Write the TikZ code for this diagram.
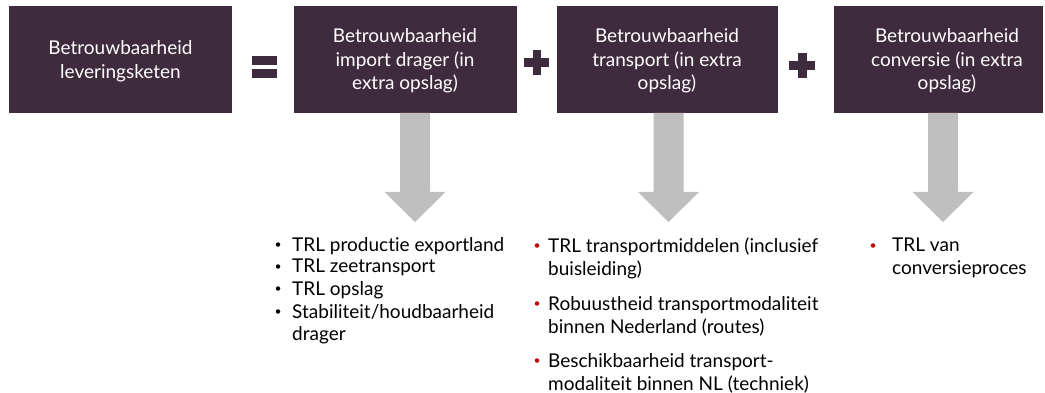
\documentclass[tikz,border=0pt]{standalone}
\usepackage{fontspec}
\setmainfont{Lato}[Ligatures=NoCommon]
\definecolor{boxc}{HTML}{3F2B3E}
\definecolor{arrowc}{HTML}{BFBFBF}
\definecolor{bulred}{HTML}{C00000}
\begin{document}
\begin{tikzpicture}[x=1pt,y=-1pt,
  box/.style={fill=boxc, draw=none, inner sep=0pt, anchor=north west, minimum height=107pt},
  boxtext/.style={text=white, font=\fontsize{19}{23.5}\selectfont, align=center, inner sep=0pt},
  item/.style={text=black, font=\fontsize{19}{22.5}\selectfont, align=left, inner sep=0pt, anchor=north west},
  blackdot/.style={circle, fill=black, inner sep=0pt, minimum size=4.5pt},
  reddot/.style={circle, fill=bulred, inner sep=0pt, minimum size=4.5pt},
  sign/.style={fill=boxc},
  blockarrow/.style={fill=arrowc}]
\useasboundingbox (0,0) rectangle (1045,393);
% boxes
\node[box, minimum width=223pt] (b1) at (9,6) {};
\node[box, minimum width=223pt] (b2) at (294,6) {};
\node[box, minimum width=221pt] (b3) at (557,6) {};
\node[box, minimum width=209pt] (b4) at (834,6) {};
\node[boxtext] (t1) at (120.5,61) {Betrouwbaarheid\\leveringsketen};
\node[boxtext] (t2) at (405,61) {Betrouwbaarheid\\import drager (in\\extra opslag)};
\node[boxtext] (t3) at (667,61) {Betrouwbaarheid\\transport (in extra\\opslag)};
\node[boxtext] (t4) at (947,61) {Betrouwbaarheid\\conversie (in extra\\opslag)};
% equals and plus signs
\fill[sign] (252,56) rectangle (277,65);
\fill[sign] (252,69) rectangle (277,78);
\fill[sign] (524,58.5) rectangle (549,67);
\fill[sign] (532.5,50) rectangle (541,75);
\fill[sign] (789,61) rectangle (815,70);
\fill[sign] (797.5,53) rectangle (806.5,78);
% block arrows
\foreach \c in {415,668.5,943}{
  \fill[blockarrow] ({\c-15},113) -- ({\c-15},192) -- ({\c-30.5},192) -- (\c,222)
    -- ({\c+30.5},192) -- ({\c+15},192) -- ({\c+15},113) -- cycle;
}
% list 1
\node[item] (l1a) at (292,237) {TRL productie exportland};
\node[item] (l1b) at (292,259) {TRL zeetransport};
\node[item] (l1c) at (292,281) {TRL opslag};
\node[item] (l1d) at (292,304) {Stabiliteit/houdbaarheid\\drager};
\node[blackdot] (d1a) at (278,244.5) {};
\node[blackdot] (d1b) at (278,266.5) {};
\node[blackdot] (d1c) at (278,288.5) {};
\node[blackdot] (d1d) at (278,311.5) {};
% list 2
\node[item, font=\fontsize{19}{23}\selectfont] (l2a) at (548,238) {TRL transportmiddelen (inclusief\\buisleiding)};
\node[item, font=\fontsize{19}{23}\selectfont] (l2b) at (548,296) {Robuustheid transportmodaliteit\\binnen Nederland (routes)};
\node[item, font=\fontsize{19}{23}\selectfont] (l2c) at (548,353) {Beschikbaarheid transport-\\modaliteit binnen NL (techniek)};
\node[reddot] (d2a) at (537,245.5) {};
\node[reddot] (d2b) at (537,303.5) {};
\node[reddot] (d2c) at (537,360.5) {};
% list 3
\node[item, font=\fontsize{19}{23}\selectfont] (l3a) at (892,238) {TRL van\\conversieproces};
\node[reddot] (d3a) at (873,245.5) {};
\end{tikzpicture}
\end{document}
